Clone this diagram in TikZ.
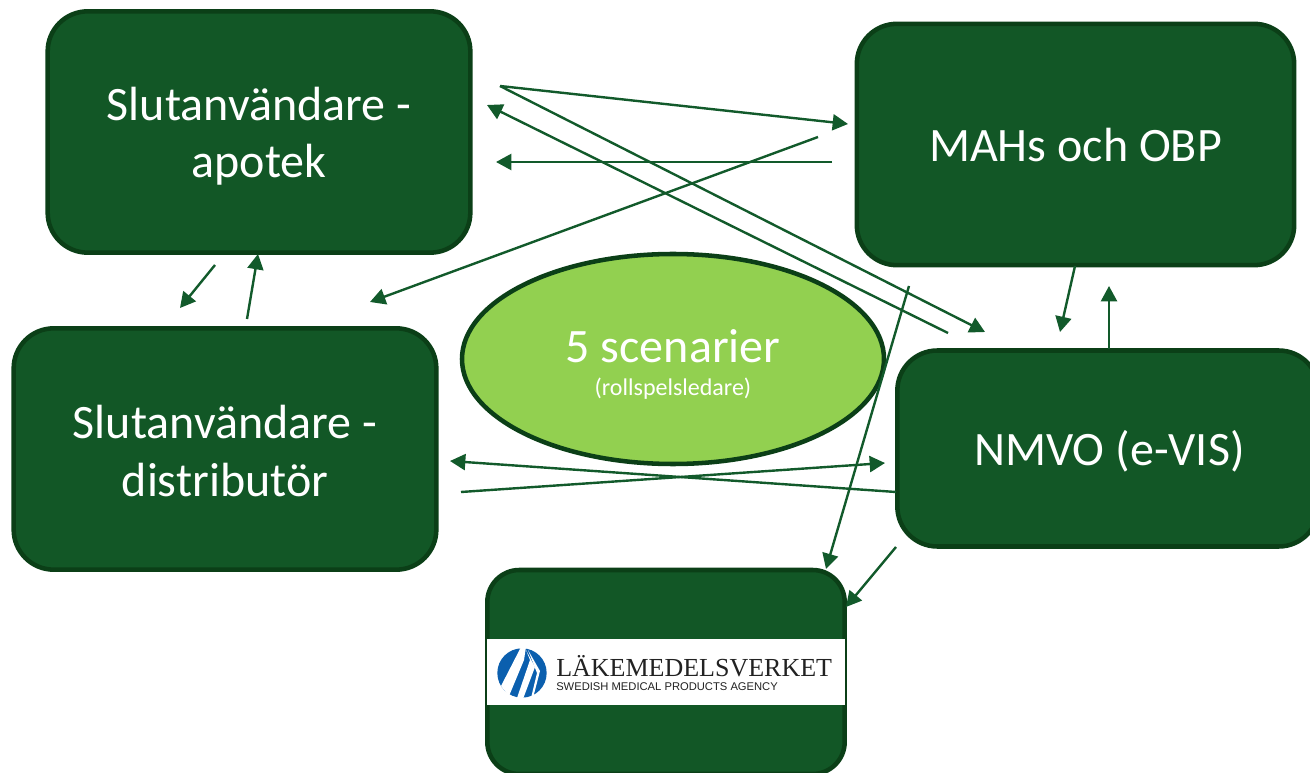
\documentclass[tikz,border=0pt]{standalone}
\usepackage{fontspec}
\setmainfont{Carlito}
\newfontfamily\logoserif{Liberation Serif}
\newfontfamily\logosans{Liberation Sans}
\usetikzlibrary{arrows.meta,shapes.geometric}

\definecolor{boxgreen}{HTML}{125726}
\definecolor{edgegreen}{HTML}{0B3F17}
\definecolor{flowgreen}{HTML}{125A2B}
\definecolor{ovalgreen}{HTML}{92D050}
\definecolor{logoblue}{HTML}{0B5FAE}
\definecolor{logoink}{HTML}{222222}

\tikzset{
	party/.style={draw=edgegreen, fill=boxgreen, line width=3.4pt, rounded corners=30pt, inner sep=0pt},
	partytext/.style={text=white, font=\fontsize{36}{43}\selectfont, align=center},
	flow/.style={-{Triangle[length=11.5pt,width=12pt]}, draw=flowgreen, line width=1.8pt, shorten >=0pt},
}

\begin{document}
\begin{tikzpicture}[x=0.75pt, y=-0.75pt]
\useasboundingbox (0,0) rectangle (1310,773);
\clip (0,0) rectangle (1310,773);

\node[party, minimum width=317pt, minimum height=181pt] (apotek) at (259,132) {};
\node[party, minimum width=328pt, minimum height=181pt] (mah) at (1075.5,144.5) {};
\node[party, minimum width=317pt, minimum height=181pt] (distributor) at (225,449) {};
\node[party, minimum width=316pt, minimum height=147pt] (nmvo) at (1108,448.5) {};
\node[party, rounded corners=24pt, minimum width=268pt, minimum height=153pt] (lv) at (666,672) {};
\node[draw=edgegreen, fill=ovalgreen, line width=3.4pt, ellipse, minimum width=316.5pt, minimum height=157.5pt, inner sep=0pt] (scen) at (673,359) {};

\node[partytext] (apotektext) at (259,136) {Slutanvändare -\\apotek};
\node[partytext] (mahtext) at (1075.5,145) {MAHs och OBP};
\node[partytext] (distributortext) at (225,451) {Slutanvändare -\\distributör};
\node[partytext] (nmvotext) at (1109.5,451) {NMVO (e-VIS)};
\node[partytext] (scentitle) at (673,346) {5 scenarier};
\node[text=white, font=\fontsize{18}{22}\selectfont] (scensub) at (673,389) {(rollspelsledare)};

% logo strip
\node[fill=white, minimum width=268.5pt, minimum height=49.5pt, inner sep=0pt] (strip) at (666,672) {};
\fill[logoblue] (522,673) circle (18.5pt);
\fill[white] (521,647) -- (526,647) -- (524,660) -- (509,696) -- (501,686) -- cycle;
\fill[white] (526,650) -- (530,660) -- (517,698) -- (523,699) -- (535,667) -- cycle;
\fill[white] (528,650) -- (540,671) -- (533,698) -- (531,698) -- (537,673) -- cycle;
\node[anchor=west, inner sep=0pt, text=logoink, font=\logoserif\fontsize{19.5}{20}\selectfont] (lvname) at (556,666) {LÄKEMEDELSVERKET};
\node[anchor=west, inner sep=0pt, text=logoink, font=\logosans\fontsize{8.4}{9}\selectfont] (lvsub) at (556,687) {SWEDISH MEDICAL PRODUCTS AGENCY};

\coordinate (a1) at (500,86);
\coordinate (a2) at (848,124);
\coordinate (a3) at (985,332);
\coordinate (a4) at (948,333);
\coordinate (a5) at (487,105);
\coordinate (a6) at (832,162);
\coordinate (a7) at (496,162);
\coordinate (a8) at (818,137);
\coordinate (a9) at (370,302);
\coordinate (b1) at (215,265);
\coordinate (b2) at (180,308);
\coordinate (b3) at (247,319);
\coordinate (b4) at (258,254);
\coordinate (c1) at (1075,266);
\coordinate (c2) at (1060,332);
\coordinate (c3) at (1109,349);
\coordinate (c4) at (1109,286);
\coordinate (d1) at (909,286);
\coordinate (d2) at (826,569);
\coordinate (d3) at (896,547);
\coordinate (d4) at (846,607);
\coordinate (e1) at (896,492);
\coordinate (e2) at (450,461);
\coordinate (e3) at (461,492);
\coordinate (e4) at (885,463);

\foreach \from/\to in {a1/a2, a1/a3, a4/a5, a6/a7, a8/a9, b1/b2, b3/b4, c1/c2, c3/c4, d1/d2, d3/d4, e1/e2, e3/e4}
	\draw[flow] (\from) -- (\to);

\end{tikzpicture}
\end{document}
